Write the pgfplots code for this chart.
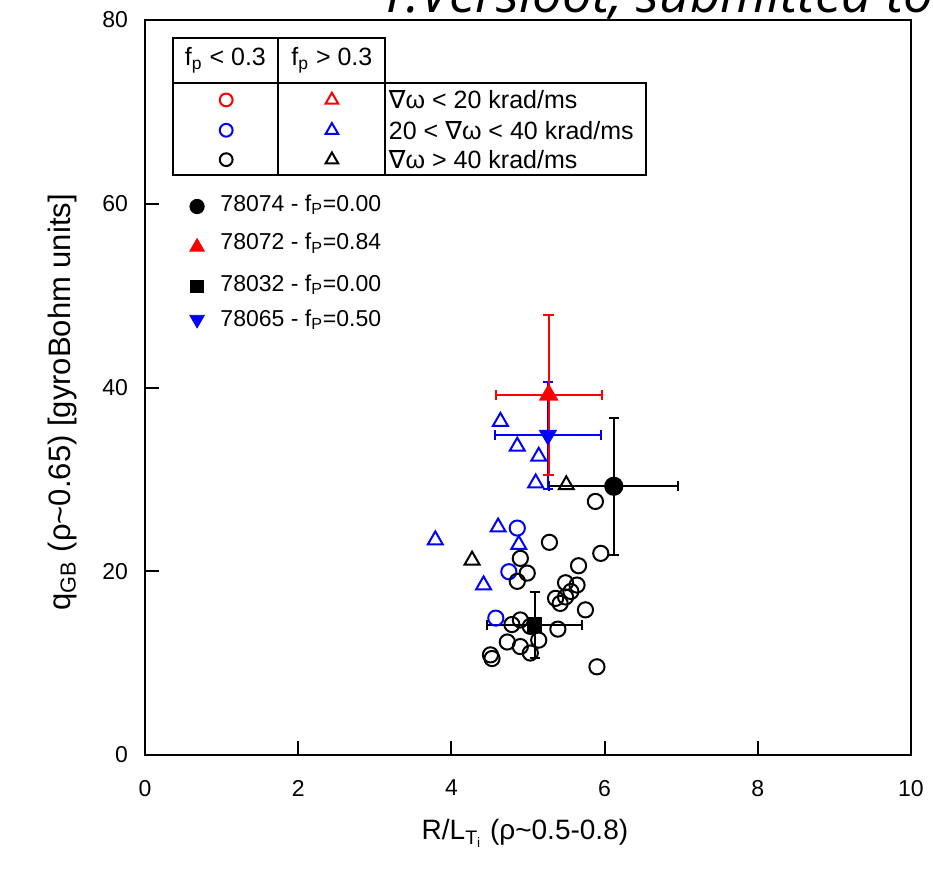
\documentclass[border=0pt]{standalone}
\usepackage{fontspec}
\setmainfont{Liberation Sans}
\newfontfamily\dejavu{DejaVu Sans}
\newfontfamily\titlefont{Open Sans}
\usepackage{pgfplots}
\pgfplotsset{compat=1.18}
\definecolor{pblue}{RGB}{0,0,255}
\definecolor{pred}{RGB}{255,0,0}
\begin{document}
\begin{tikzpicture}
\path[use as bounding box] (0,0) rectangle (466.5pt,437.5pt);
\clip (0,0) rectangle (466.5pt,437.5pt);
\node[anchor=base west, inner sep=0pt, font=\titlefont\itshape\fontsize{26.5}{30}\selectfont] at (190pt,431pt) {T.Versloot, submitted to};
\begin{axis}[at={(72.5pt,60pt)}, anchor=south west, scale only axis,
  width=383pt, height=367.5pt,
  xmin=0, xmax=10, ymin=0, ymax=80,
  xtick={0,2,...,10}, ytick={0,20,...,80},
  tick align=inside, xtick pos=bottom, ytick pos=left,
  major tick length=7pt,
  axis line style={line width=1pt},
  every tick/.style={line width=1pt, black},
  ticklabel style={font=\fontsize{11.5}{13}\selectfont},
  /pgf/number format/assume math mode=true,
  xticklabel style={yshift=-9pt}, yticklabel style={xshift=-5pt},
  xlabel={R/L\textsubscript{T\textsubscript{i}} (ρ\textasciitilde 0.5-0.8)},
  ylabel={q\textsubscript{GB} (ρ\textasciitilde 0.65) [gyroBohm units]},
  xlabel style={at={(axis description cs:0.496,-0.1156)}, anchor=base, font=\fontsize{14}{16}\selectfont},
  ylabel style={at={(axis description cs:-0.108,0.48)}, anchor=center, font=\fontsize{15.5}{17}\selectfont},
  clip=false,
  openc/.style={only marks, mark=o, mark size=3.8pt, line width=1pt},
  opent/.style={only marks, mark=triangle, mark size=4.3pt, line width=1pt},
  ebar/.style={error bars/.cd, x dir=both, x explicit, y dir=both, y explicit,
    error bar style={line width=1pt},
    error mark options={rotate=90, line width=1pt, mark size=2.6pt}},
]
% open triangles, blue (fp>0.3, 20-40)
\addplot[opent, pblue] coordinates {(4.64,36.3)(4.86,33.6)(5.14,32.5)(5.10,29.6)(4.61,24.8)(3.79,23.4)(4.88,22.9)(4.42,18.5)};
% open triangles, black
\addplot[opent, black] coordinates {(5.50,29.4)(4.27,21.2)};
% open circles, blue
\addplot[openc, pblue] coordinates {(4.86,24.7)(4.75,19.95)(4.58,14.9)};
% open circles, black
\addplot[openc, black] coordinates {
(5.88,27.6)(5.28,23.15)(5.95,21.95)(4.90,21.4)(5.66,20.6)(4.99,19.8)(4.86,18.9)
(5.49,18.75)(5.64,18.5)(5.56,17.8)(5.36,17.05)(5.49,17.2)(5.42,16.5)(5.75,15.8)
(5.39,13.7)(4.90,14.7)(4.79,14.2)(5.03,14.0)(5.14,12.5)(4.73,12.3)(4.90,11.8)
(5.03,11.1)(4.51,10.9)(4.53,10.5)(5.90,9.6)};
% 78032 square
\addplot[only marks, black, mark=square*, mark size=3.3pt, line width=1pt, ebar]
  coordinates {(5.09,14.15) +- (0.62,3.55)};
% 78074 circle
\addplot[only marks, black, mark=*, mark size=4.3pt, line width=1pt, ebar]
  coordinates {(6.12,29.25) +- (0.84,7.45)};
% 78065 blue down triangle
\addplot[only marks, pblue, mark=triangle*, mark options={rotate=180}, mark size=4.3pt, line width=1pt, ebar]
  coordinates {(5.26,34.8) +- (0.69,5.8)};
% 78072 red triangle
\addplot[only marks, pred, mark=triangle*, mark size=4.7pt, line width=1pt, ebar]
  coordinates {(5.27,39.2) +- (0.69,8.7)};

% legend table
\draw[line width=1pt] (axis cs:0.366,78.04) rectangle (axis cs:3.137,63.13);
\draw[line width=1pt] (axis cs:1.739,78.04) -- (axis cs:1.739,63.13);
\draw[line width=1pt] (axis cs:0.366,73.14) -- (axis cs:6.536,73.14) -- (axis cs:6.536,63.13) -- (axis cs:3.137,63.13);
\node[font=\fontsize{12.5}{14}\selectfont] at (axis cs:1.05,75.6) {f\textsubscript{p} < 0.3};
\node[font=\fontsize{12.5}{14}\selectfont] at (axis cs:2.44,75.6) {f\textsubscript{p} > 0.3};
\addplot[only marks, mark=o, mark size=3.2pt, line width=1pt, pred, forget plot] coordinates {(1.06,71.3)};
\addplot[only marks, mark=o, mark size=3.2pt, line width=1pt, pblue, forget plot] coordinates {(1.06,68.0)};
\addplot[only marks, mark=o, mark size=3.2pt, line width=1pt, black, forget plot] coordinates {(1.06,64.8)};
\addplot[only marks, mark=triangle, mark size=3.6pt, line width=1pt, pred, forget plot] coordinates {(2.44,71.3)};
\addplot[only marks, mark=triangle, mark size=3.6pt, line width=1pt, pblue, forget plot] coordinates {(2.44,68.0)};
\addplot[only marks, mark=triangle, mark size=3.6pt, line width=1pt, black, forget plot] coordinates {(2.44,64.8)};
\node[anchor=west, inner sep=0pt, font=\fontsize{12.5}{14}\selectfont] at (axis cs:3.18,71.3) {{\dejavu ∇}ω < 20 krad/ms};
\node[anchor=west, inner sep=0pt, font=\fontsize{12.5}{14}\selectfont] at (axis cs:3.18,68.0) {20 < {\dejavu ∇}ω < 40 krad/ms};
\node[anchor=west, inner sep=0pt, font=\fontsize{12.5}{14}\selectfont] at (axis cs:3.18,64.8) {{\dejavu ∇}ω > 40 krad/ms};

% second legend
\addplot[only marks, mark=*, mark size=3.6pt, black, forget plot] coordinates {(0.68,59.7)};
\addplot[only marks, mark=triangle*, mark size=4.2pt, pred, forget plot] coordinates {(0.68,55.3)};
\addplot[only marks, mark=square*, mark size=3.1pt, black, forget plot] coordinates {(0.68,51.0)};
\addplot[only marks, mark=triangle*, mark options={rotate=180}, mark size=4.2pt, pblue, forget plot] coordinates {(0.68,47.4)};
\node[anchor=west, inner sep=0pt, font=\fontsize{11.5}{13}\selectfont] at (axis cs:0.98,59.9) {78074 - f\textsubscript{P}=0.00};
\node[anchor=west, inner sep=0pt, font=\fontsize{11.5}{13}\selectfont] at (axis cs:0.98,55.7) {78072 - f\textsubscript{P}=0.84};
\node[anchor=west, inner sep=0pt, font=\fontsize{11.5}{13}\selectfont] at (axis cs:0.98,51.2) {78032 - f\textsubscript{P}=0.00};
\node[anchor=west, inner sep=0pt, font=\fontsize{11.5}{13}\selectfont] at (axis cs:0.98,47.4) {78065 - f\textsubscript{P}=0.50};
\end{axis}
\end{tikzpicture}
\end{document}
